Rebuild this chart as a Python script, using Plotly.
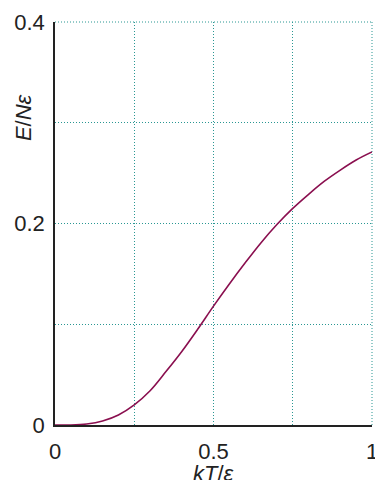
import plotly.graph_objects as go

# Data
kT = [0.0, 0.05, 0.1, 0.15, 0.2, 0.25, 0.3, 0.35, 0.4, 0.45, 0.5,
      0.55, 0.6, 0.65, 0.7, 0.75, 0.8, 0.85, 0.9, 0.95, 1.0]
E = [0.0, 0.0, 0.001, 0.004, 0.010, 0.020, 0.034, 0.053, 0.073, 0.095, 0.118,
     0.140, 0.161, 0.181, 0.199, 0.215, 0.229, 0.242, 0.253, 0.263, 0.271]

x_ticks = [0, 0.5, 1]
x_labels = ["0", "0.5", "1"]
y_ticks = [0, 0.2, 0.4]
y_labels = ["0", "0.2", "0.4"]

GRID = "#2a9793"
DOT = "1px,2px"
FONT = "Liberation Sans, Arial, Helvetica, sans-serif"

fig = go.Figure()
fig.add_trace(go.Scatter(x=kT, y=E, mode="lines",
                         line=dict(color="#8a0f4f", width=1.6, shape="spline", smoothing=1),
                         hoverinfo="skip", showlegend=False))

fig.update_xaxes(range=[0, 1], tickvals=x_ticks, ticktext=x_labels,
                 automargin=False, ticklabeloverflow="allow",
                 showline=True, linecolor="#222", linewidth=1.5,
                 showgrid=True, gridcolor=GRID, griddash=DOT, gridwidth=1,
                 minor=dict(dtick=0.25, tick0=0, showgrid=True, gridcolor=GRID,
                            griddash=DOT, gridwidth=1),
                 zeroline=False, ticks="", ticklen=0, ticklabelstandoff=6,
                 tickfont=dict(size=22, color="#222", family=FONT))
fig.update_yaxes(range=[0, 0.4], tickvals=y_ticks, ticktext=y_labels,
                 automargin=False, ticklabeloverflow="allow",
                 showline=True, linecolor="#222", linewidth=1.5,
                 showgrid=True, gridcolor=GRID, griddash=DOT, gridwidth=1,
                 minor=dict(dtick=0.1, tick0=0, showgrid=True, gridcolor=GRID,
                            griddash=DOT, gridwidth=1),
                 zeroline=False, ticks="", ticklen=0, ticklabelstandoff=4,
                 tickfont=dict(size=22, color="#222", family=FONT))

# dotted frame on the top and right edges of the plot area
fig.add_shape(type="line", xref="paper", yref="paper", x0=0, x1=1, y0=1, y1=1,
              line=dict(color=GRID, width=1, dash=DOT), layer="below")
fig.add_shape(type="line", xref="paper", yref="paper", x0=1, x1=1, y0=0, y1=1,
              line=dict(color=GRID, width=1, dash=DOT), layer="below")

fig.add_annotation(text="<i>kT</i>/<i>ε</i>", xref="paper", yref="paper",
                   x=0.5, y=-0.12, yanchor="middle", showarrow=False,
                   font=dict(size=22, color="#222", family=FONT))
fig.add_annotation(text="<i>E</i>/<i>Nε</i>", xref="paper", yref="paper",
                   x=-0.101, y=0.764, textangle=-90, xanchor="center",
                   yanchor="middle", showarrow=False,
                   font=dict(size=22, color="#222", family=FONT))

fig.update_layout(width=375, height=480,
                  margin=dict(l=55, r=3, t=22, b=55),
                  paper_bgcolor="white", plot_bgcolor="white",
                  font=dict(family=FONT, color="#222"))

fig.write_html("out.html", config={"displayModeBar": False},
               post_script="document.body.style.margin='0';document.body.style.overflow='hidden';")
